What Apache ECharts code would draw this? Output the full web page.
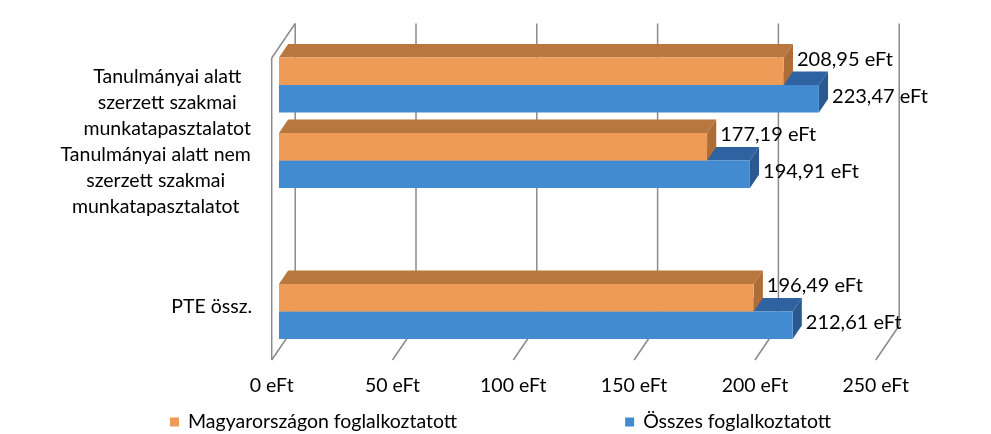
<!DOCTYPE html>
<html>
<head>
<meta charset="utf-8">
<script src="https://cdn.jsdelivr.net/npm/echarts@6/dist/echarts.min.js"></script>
<style>
html, body { margin: 0; padding: 0; background: #ffffff; }
#chart { width: 991px; height: 434px; }
</style>
</head>
<body>
<div id="chart"></div>
<script>
// ---- data ----
const categories = [
  'Tanulmányai alatt\nszerzett szakmai\nmunkatapasztalatot',
  'Tanulmányai alatt nem\nszerzett szakmai\nmunkatapasztalatot',
  '',
  'PTE össz.'
];
const seriesNames = ['Magyarországon foglalkoztatott', 'Összes foglalkoztatott'];
const hungaryValues = [208.95, 177.19, null, 196.49];
const totalValues = [223.47, 194.91, null, 212.61];
const xTicks = [0, 50, 100, 150, 200, 250];
const unit = ' eFt';

// ---- style ----
const FONT = 'Lato';
const DX = 23.5, DY = -34.5;        // depth vector of the 3D box
const F1 = 0.31, F2 = 0.70;          // bar depth range
const BAR_FRAC = 0.364;              // bar thickness / category slot
const GRID_COLOR = '#8a8a8a';
const COLORS = {
  orange: { front: '#EF9B58', top: '#B7773F', side: '#AE6C37' },
  blue:   { front: '#438BD1', top: '#2E62A0', side: '#2A5991' }
};

function fmt(v) { return v.toFixed(2).replace('.', ',') + unit; }

function frameRender(params, api) {
  const v = api.value(0);
  const x = api.coord([v, 0])[0];
  const cs = params.coordSys;
  const top = cs.y, bottom = cs.y + cs.height;
  const ls = { stroke: GRID_COLOR, lineWidth: 1.5 };
  const children = [
    { type: 'line', shape: { x1: x + DX, y1: top + DY, x2: x + DX, y2: bottom + DY }, style: ls },
    { type: 'line', shape: { x1: x + DX, y1: bottom + DY, x2: x, y2: bottom }, style: ls }
  ];
  if (v === xTicks[0]) {
    children.push({ type: 'line', shape: { x1: x, y1: top, x2: x, y2: bottom }, style: ls });
    children.push({ type: 'line', shape: { x1: x, y1: top, x2: x + DX, y2: top + DY }, style: ls });
  }
  return { type: 'group', children: children };
}

function makeBarRender(isUpper, col, labelDy) {
  return function (params, api) {
    const v = api.value(0);
    if (v == null || isNaN(v)) return null;
    const ci = api.value(1);
    const c0 = api.coord([0, ci]);
    const c1 = api.coord([v, ci]);
    const slot = api.size([0, 1])[1];
    const h = slot * BAR_FRAC;
    const yT = isUpper ? c0[1] - h : c0[1];
    const yB = yT + h;
    const x0 = c0[0], x1 = c1[0];
    const aX = F1 * DX, aY = F1 * DY, bX = F2 * DX, bY = F2 * DY;
    return {
      type: 'group',
      children: [
        { type: 'polygon', shape: { points: [[x0 + aX, yT + aY], [x0 + bX, yT + bY], [x1 + bX, yT + bY], [x1 + aX, yT + aY]] },
          style: { fill: col.top } },
        { type: 'polygon', shape: { points: [[x1 + aX, yT + aY], [x1 + bX, yT + bY], [x1 + bX, yB + bY], [x1 + aX, yB + aY]] },
          style: { fill: col.side } },
        { type: 'rect', shape: { x: x0 + aX, y: yT + aY, width: x1 - x0, height: h },
          style: { fill: col.front } },
        { type: 'text', x: x1 + bX + 4, y: (yT + yB) / 2 + labelDy,
          style: { text: fmt(v), fill: '#000000', fontSize: 20, fontFamily: FONT, align: 'left', verticalAlign: 'middle' } }
      ]
    };
  };
}

const labelKeys = ['a', 'b', '', 'c'];
function catFormatter(value, idx) {
  if (!value) return '';
  const key = labelKeys[idx];
  let s = value.split('\n').map(function (l) { return '{' + key + '|' + l + '}'; }).join('\n');
  if (idx === 0) s = '{s0| }\n' + s;
  if (idx === 1) s = '{s1| }\n' + s;
  if (idx === 3) s = s + '\n{s3| }';
  return s;
}

const chart = echarts.init(document.getElementById('chart'), null, { renderer: 'canvas' });
const base = { fontSize: 19.5, fontFamily: FONT, color: '#000000', lineHeight: 26, align: 'center' };
chart.setOption({
  animation: false,
  backgroundColor: '#ffffff',
  textStyle: { fontFamily: FONT },
  grid: { left: 271.7, right: 115.3, top: 58, bottom: 74, containLabel: false, outerBoundsMode: 'none' },
  legend: {
    left: 170, top: 412, padding: 0,
    icon: 'rect', itemWidth: 9, itemHeight: 9, itemGap: 168,
    textStyle: { fontSize: 19.5, fontFamily: FONT, color: '#000000', padding: [0, 0, 0, 4] },
    data: [
      { name: seriesNames[0], itemStyle: { color: COLORS.orange.front } },
      { name: seriesNames[1], itemStyle: { color: COLORS.blue.front } }
    ]
  },
  xAxis: {
    type: 'value', min: 0, max: 250, interval: 50,
    axisLine: { show: false }, axisTick: { show: false }, splitLine: { show: false },
    axisLabel: { formatter: '{value}' + unit, fontSize: 19.5, fontFamily: FONT, color: '#000000', margin: 16 }
  },
  yAxis: {
    type: 'category', inverse: true, data: categories,
    axisLine: { show: false }, axisTick: { show: false }, splitLine: { show: false },
    axisLabel: {
      interval: 0, margin: 20, formatter: catFormatter,
      rich: {
        a: Object.assign({}, base, { width: 169 }),
        b: Object.assign({}, base, { width: 192 }),
        c: Object.assign({}, base, { width: 80 }),
        s0: { lineHeight: 14.6, fontSize: 10 },
        s1: { lineHeight: 19.6, fontSize: 10 },
        s3: { lineHeight: 30.4, fontSize: 10 }
      }
    }
  },
  series: [
    {
      type: 'custom', name: 'frame', z: 1, silent: true, clip: false,
      renderItem: frameRender,
      data: xTicks.map(function (t) { return [t, 0]; })
    },
    {
      type: 'custom', name: seriesNames[1], z: 3, clip: false,
      color: COLORS.blue.front,
      renderItem: makeBarRender(false, COLORS.blue, -13),
      data: totalValues.map(function (v, i) { return [v, i]; }).filter(function (d) { return d[0] != null; })
    },
    {
      type: 'custom', name: seriesNames[0], z: 4, clip: false,
      color: COLORS.orange.front,
      renderItem: makeBarRender(true, COLORS.orange, -22.5),
      data: hungaryValues.map(function (v, i) { return [v, i]; }).filter(function (d) { return d[0] != null; })
    }
  ]
});
</script>
</body>
</html>
